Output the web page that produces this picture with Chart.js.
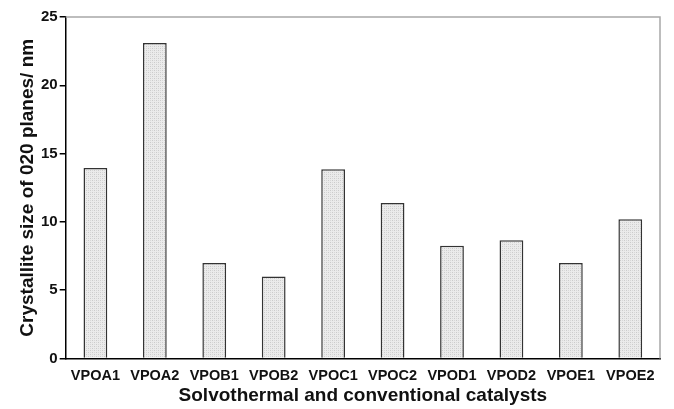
<!DOCTYPE html>
<html>
<head>
<meta charset="utf-8">
<script src="https://cdn.jsdelivr.net/npm/chart.js@4"></script>
<style>
  html, body { margin: 0; padding: 0; background: #fff; }
  #wrap { width: 674px; height: 409px; }
</style>
</head>
<body>
<div id="wrap"><canvas id="chart" width="674" height="409"></canvas></div>
<script>
var CATEGORIES = ['VPOA1', 'VPOA2', 'VPOB1', 'VPOB2', 'VPOC1', 'VPOC2', 'VPOD1', 'VPOD2', 'VPOE1', 'VPOE2'];
var CRYSTALLITE = [13.95, 23.1, 7.0, 6.0, 13.85, 11.38, 8.25, 8.65, 7.0, 10.2];
var Y_TICKS = [0, 5, 10, 15, 20, 25];

var FONT = 'Liberation Sans, Arial, sans-serif';

// light gray cross-hatch fill like the original bars
function makeHatch() {
  var c = document.createElement('canvas');
  c.width = 4; c.height = 4;
  var g = c.getContext('2d');
  g.fillStyle = '#ebebeb';
  g.fillRect(0, 0, 4, 4);
  g.fillStyle = '#cbcbcb';
  g.fillRect(0, 0, 1, 1);
  g.fillRect(2, 2, 1, 1);
  g.fillStyle = '#d8d8d8';
  g.fillRect(2, 0, 1, 1);
  g.fillRect(0, 2, 1, 1);
  return g.createPattern(c, 'repeat');
}

var frameLines = {
  id: 'frameLines',
  afterDraw: function (chart) {
    var a = chart.chartArea;
    var ctx = chart.ctx;
    ctx.save();
    ctx.strokeStyle = '#a8a8a8';
    ctx.lineWidth = 1.5;
    ctx.beginPath();
    ctx.moveTo(a.left, a.top);
    ctx.lineTo(a.right, a.top);
    ctx.lineTo(a.right, a.bottom);
    ctx.stroke();
    ctx.restore();
  }
};

var ctx = document.getElementById('chart').getContext('2d');
var crystalChart = new Chart(ctx, {
  type: 'bar',
  data: {
    labels: CATEGORIES,
    datasets: [{
      data: CRYSTALLITE,
      backgroundColor: makeHatch(),
      borderColor: '#333',
      borderWidth: 1.5,
      barPercentage: 0.4,
      categoryPercentage: 1.0,
    }],
  },
  options: {
    responsive: false,
    animation: false,
    layout: { padding: { top: 17, right: 14, left: 18, bottom: 4 } },
    plugins: {
      legend: { display: false },
      tooltip: { enabled: false },
    },
    scales: {
      x: {
        grid: { display: false, drawTicks: false },
        border: { color: '#000', width: 1.5 },
        ticks: { color: '#111', font: { family: FONT, size: 14.5, weight: 'bold', lineHeight: 1 }, padding: 10.5 },
        afterFit: function (scale) { scale.height = 46.5; },
        title: {
          display: true,
          text: 'Solvothermal and conventional catalysts',
          color: '#111',
          font: { family: FONT, size: 19, weight: 'bold', lineHeight: 1 },
          padding: { top: 1, bottom: 0 },
        },
      },
      y: {
        min: 0,
        max: 25,
        afterBuildTicks: function (axis) {
          axis.ticks = Y_TICKS.map(function (v) { return { value: v }; });
        },
        grid: { drawOnChartArea: false, drawTicks: true, tickLength: 6, color: '#000', lineWidth: 1.5 },
        border: { color: '#000', width: 1.5 },
        ticks: { color: '#111', font: { family: FONT, size: 15, weight: 'bold', lineHeight: 1 }, padding: 2 },
        title: {
          display: true,
          text: 'Crystallite size of 020 planes/ nm',
          color: '#111',
          font: { family: FONT, size: 19, weight: 'bold', lineHeight: 1 },
          padding: { top: 0, bottom: 2 },
        },
      },
    },
  },
  plugins: [frameLines],
});
</script>
</body>
</html>
